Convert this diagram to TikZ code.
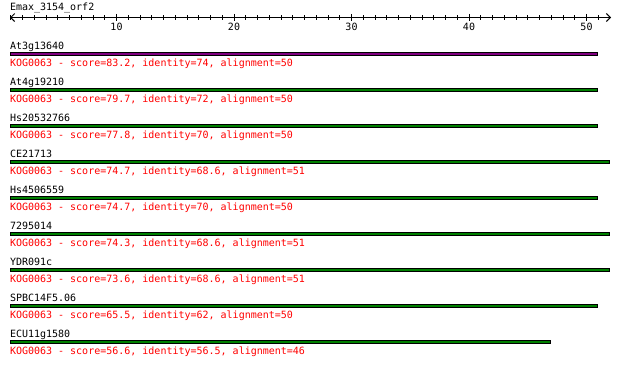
\documentclass[tikz,border=0pt]{standalone}
\usepackage{fontspec}
\setmonofont{DejaVu Sans Mono}
\usepackage{xcolor}
\usetikzlibrary{arrows.meta, positioning}

\definecolor{hitpurple}{HTML}{800080}
\definecolor{hitgreen}{HTML}{008000}
\definecolor{hitred}{HTML}{FF0000}

\begin{document}
\begin{tikzpicture}[x=1pt, y=-1pt, line width=1pt,
    txt/.style={inner sep=0pt, anchor=base west, font=\ttfamily\fontsize{10}{12}\selectfont},
    seqname/.style={txt, text=black},
    hit/.style={txt, text=hitred},
    bar/.style={draw=black, line width=1pt}]
    \useasboundingbox (0,0) rectangle (620,365);

    % Ruler
    \node[seqname] (query) at (9.5,10.5) {Emax\_3154\_orf2};
    \coordinate (rulerL) at (10,17.5);
    \coordinate (rulerR) at (611,17.5);
    \draw[{Straight Barb[length=4pt,width=8pt]}-{Straight Barb[length=4pt,width=8pt]}] (rulerL) -- (rulerR);
    \foreach \p in {1,...,51}
        \draw (-1+11.75*\p,15) -- (-1+11.75*\p,20);
    \foreach \p in {10,20,30,40,50} {
        \draw (-1+11.75*\p,13.8) -- (-1+11.75*\p,21.2);
        \node[txt, anchor=base] (tick\p) at (-1+11.75*\p,30.5) {\p};
    }

    % Hits
    \node[seqname] (s1) at (9.5,49.5) {At3g13640};
    \draw[bar, fill=hitpurple] (10.75,52.8) rectangle (597.75,55.8);
    \node[hit] (h1) at (9.5,66) {KOG0063 - score=83.2, identity=74, alignment=50};

    \node[seqname] (s2) at (9.5,85.5) {At4g19210};
    \draw[bar, fill=hitgreen] (10.75,88.8) rectangle (597.75,91.8);
    \node[hit] (h2) at (9.5,102) {KOG0063 - score=79.7, identity=72, alignment=50};

    \node[seqname] (s3) at (9.5,121.5) {Hs20532766};
    \draw[bar, fill=hitgreen] (10.75,124.8) rectangle (597.75,127.8);
    \node[hit] (h3) at (9.5,138) {KOG0063 - score=77.8, identity=70, alignment=50};

    \node[seqname] (s4) at (9.5,157.5) {CE21713};
    \draw[bar, fill=hitgreen] (10.75,160.8) rectangle (609.5,163.8);
    \node[hit] (h4) at (9.5,174) {KOG0063 - score=74.7, identity=68.6, alignment=51};

    \node[seqname] (s5) at (9.5,193.5) {Hs4506559};
    \draw[bar, fill=hitgreen] (10.75,196.8) rectangle (597.75,199.8);
    \node[hit] (h5) at (9.5,210) {KOG0063 - score=74.7, identity=70, alignment=50};

    \node[seqname] (s6) at (9.5,229.5) {7295014};
    \draw[bar, fill=hitgreen] (10.75,232.8) rectangle (609.5,235.8);
    \node[hit] (h6) at (9.5,246) {KOG0063 - score=74.3, identity=68.6, alignment=51};

    \node[seqname] (s7) at (9.5,265.5) {YDR091c};
    \draw[bar, fill=hitgreen] (10.75,268.8) rectangle (609.5,271.8);
    \node[hit] (h7) at (9.5,282) {KOG0063 - score=73.6, identity=68.6, alignment=51};

    \node[seqname] (s8) at (9.5,301.5) {SPBC14F5.06};
    \draw[bar, fill=hitgreen] (10.75,304.8) rectangle (597.75,307.8);
    \node[hit] (h8) at (9.5,318) {KOG0063 - score=65.5, identity=62, alignment=50};

    \node[seqname] (s9) at (9.5,337.5) {ECU11g1580};
    \draw[bar, fill=hitgreen] (10.75,340.8) rectangle (550.75,343.8);
    \node[hit] (h9) at (9.5,354) {KOG0063 - score=56.6, identity=56.5, alignment=46};
\end{tikzpicture}
\end{document}
